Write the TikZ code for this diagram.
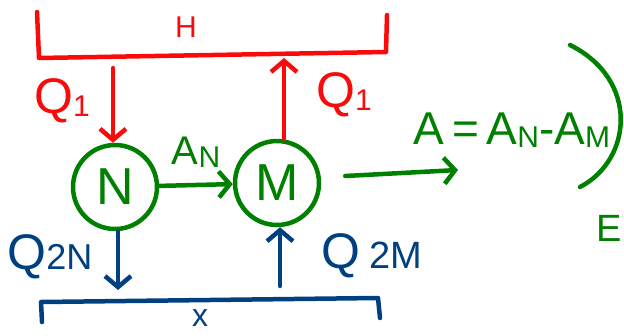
\documentclass[tikz,border=0pt]{standalone}
\usepackage{fontspec}
\setmainfont{Liberation Sans}
\usetikzlibrary{positioning,arrows.meta}
\definecolor{inkred}{RGB}{250,10,10}
\definecolor{inkgreen}{RGB}{0,128,0}
\definecolor{inkblue}{RGB}{0,64,128}
\newcommand{\lowsub}[1]{\raisebox{-3pt}{\fontsize{30}{30}\selectfont #1}}

\begin{document}
\begin{tikzpicture}[x=1pt, y=-1pt, line width=4.5pt, line cap=round, line join=round,
  flow/.style={-{Straight Barb[length=11pt,width=26pt]}},
  body/.style={draw=inkgreen, circle, minimum size=84pt, inner sep=0pt,
    text=inkgreen, font=\fontsize{52}{52}\selectfont},
  lbl/.style={inner sep=0pt, font=\fontsize{50}{50}\selectfont}]
  \path[use as bounding box, clip] (0,0) rectangle (624,335);

  % bodies
  \node[body] (N) at (115,187) {N};
  \node[body] (M) at (277,183) {M};

  % upper reservoir H
  \coordinate (h1) at (37,12);
  \coordinate (h2) at (39,58);
  \coordinate (h3) at (386,52);
  \coordinate (h4) at (387,15);
  \draw[inkred] (h1) -- (h2) -- (h3) -- (h4);
  \node[text=inkred, font=\fontsize{30}{30}\selectfont] (H) at (186,27) {H};

  % heat from H
  \coordinate (qin) at (113,68);
  \coordinate (qout) at (284,58);
  \draw[inkred, flow] (qin) -- (N.north -| qin);
  \draw[inkred, flow] (M.north -| qout) -- (qout);
  \node[lbl, text=inkred] (Q1a) at (62,101) {Q\lowsub{1}};
  \node[lbl, text=inkred] (Q1b) at (344,95) {Q\lowsub{1}};

  % work
  \draw[inkgreen, flow] (N) -- node[above=12pt, font=\fontsize{40}{40}\selectfont] (AN) {A\lowsub{N}} (M);
  \coordinate (aout) at (458,170);
  \draw[inkgreen, flow] (M.east |- 0,176) ++(24,0) coordinate (aend) -- (aout);
  \node[inkgreen, font=\fontsize{46}{46}\selectfont] (A) at (512,130)
    {A\,=\,A\lowsub{N}-A\lowsub{M}};
  \coordinate (b1) at (570,45);
  \coordinate (b2) at (580,187);
  \draw[inkgreen] (b1) .. controls (640,80) and (632,160) .. (b2);
  \node[inkgreen, font=\fontsize{38}{38}\selectfont] (E) at (609,228) {E};

  % heat to x
  \coordinate (cout) at (118,290);
  \coordinate (cin) at (280,286);
  \draw[inkblue, flow] (N.south -| cout) -- (cout);
  \draw[inkblue, flow] (cin) -- (M.south -| cin);
  \node[lbl, text=inkblue] (Q2N) at (50,257) {Q{\fontsize{36}{36}\selectfont 2N}};
  \node[lbl, text=inkblue] (Q2M) at (372,256) {Q\,{\fontsize{38}{38}\selectfont 2M}};

  % lower reservoir x
  \coordinate (x1) at (42,322);
  \coordinate (x2) at (41,302);
  \coordinate (x3) at (378,298);
  \coordinate (x4) at (380,318);
  \draw[inkblue] (x1) -- (x2) -- (x3) -- (x4);
  \node[text=inkblue, font=\fontsize{32}{32}\selectfont] (X) at (200,318) {x};
\end{tikzpicture}
\end{document}
